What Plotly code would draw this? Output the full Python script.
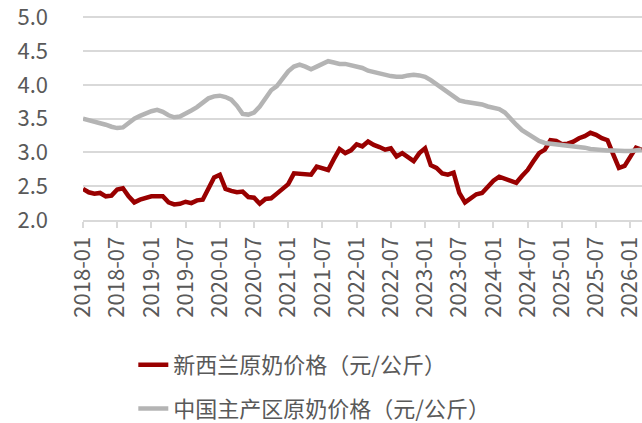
import pandas as pd
import plotly.graph_objects as go

# Monthly categories 2018-01 .. 2026-03
months = pd.date_range("2018-01-01", periods=99, freq="MS").strftime("%Y-%m").tolist()

tick_labels = ["2018-01", "2018-07", "2019-01", "2019-07", "2020-01", "2020-07",
               "2021-01", "2021-07", "2022-01", "2022-07", "2023-01", "2023-07",
               "2024-01", "2024-07", "2025-01", "2025-07", "2026-01"]

y_ticks = [2.0, 2.5, 3.0, 3.5, 4.0, 4.5, 5.0]

series_nz_name = "新西兰原奶价格（元/公斤）"
series_cn_name = "中国主产区原奶价格（元/公斤）"

nz_price = [
    2.46, 2.41, 2.39, 2.40, 2.35, 2.36, 2.45, 2.47, 2.35, 2.26, 2.30, 2.33,
    2.35, 2.35, 2.35, 2.26, 2.23, 2.24, 2.27, 2.25, 2.29, 2.30, 2.45, 2.63,
    2.67, 2.46, 2.43, 2.41, 2.42, 2.34, 2.33, 2.24, 2.31, 2.32, 2.39, 2.46,
    2.53, 2.69, 2.68, 2.67, 2.67, 2.79, 2.77, 2.74, 2.90, 3.05, 2.99, 3.03,
    3.12, 3.09, 3.16, 3.11, 3.08, 3.04, 3.06, 2.94, 2.99, 2.92, 2.87, 2.99,
    3.06, 2.81, 2.77, 2.69, 2.67, 2.70, 2.40, 2.26, 2.33, 2.38, 2.40, 2.50,
    2.58, 2.64, 2.61, 2.58, 2.55, 2.65, 2.74, 2.87, 2.99, 3.04, 3.18, 3.17,
    3.12, 3.13, 3.16, 3.21, 3.24, 3.29, 3.26, 3.21, 3.18, 2.97, 2.77, 2.80,
    2.95, 3.07, 3.04,
]

cn_price = [
    3.50, 3.48, 3.46, 3.44, 3.41, 3.38, 3.36, 3.37, 3.44, 3.50, 3.54, 3.58,
    3.61, 3.63, 3.60, 3.55, 3.52, 3.53, 3.57, 3.62, 3.67, 3.74, 3.80, 3.83,
    3.84, 3.82, 3.78, 3.69, 3.57, 3.56, 3.59, 3.68, 3.81, 3.92, 3.98, 4.08,
    4.20, 4.27, 4.30, 4.27, 4.23, 4.27, 4.31, 4.35, 4.33, 4.31, 4.31, 4.29,
    4.26, 4.25, 4.21, 4.19, 4.16, 4.14, 4.13, 4.12, 4.12, 4.14, 4.15, 4.14,
    4.12, 4.07, 4.01, 3.95, 3.90, 3.84, 3.77, 3.75, 3.74, 3.73, 3.71, 3.68,
    3.66, 3.64, 3.59, 3.49, 3.41, 3.33, 3.27, 3.22, 3.17, 3.14, 3.13, 3.12,
    3.12, 3.11, 3.10, 3.08, 3.07, 3.05, 3.04, 3.04, 3.03, 3.03, 3.02, 3.02,
    3.02, 3.03, 3.04,
]

RED = "#990000"
GRAY = "#b4b4b4"
GRID = "#d9d9d9"
TXT = "#595959"
CJK = "Noto Sans CJK SC"

fig = go.Figure()
fig.add_trace(go.Scatter(x=months, y=nz_price, mode="lines", name=series_nz_name,
                         legendgroup="a",
                         line=dict(color=RED, width=4.5)))
fig.add_trace(go.Scatter(x=months, y=cn_price, mode="lines", name=series_cn_name,
                         legendgroup="b",
                         line=dict(color=GRAY, width=4.5)))

fig.update_layout(
    width=642, height=423,
    margin=dict(l=83, r=0, t=15, b=203, autoexpand=False),
    paper_bgcolor="white", plot_bgcolor="white",
    showlegend=True,
    legend=dict(x=0.09, y=-0.605, xanchor="left", yanchor="top",
                font=dict(family=CJK, size=22, color=TXT),
                tracegroupgap=12, bgcolor="rgba(0,0,0,0)"),
)

fig.update_xaxes(
    type="category", categoryorder="array", categoryarray=months,
    range=[0, 98.05],
    tickmode="array", tickvals=tick_labels, ticktext=tick_labels,
    tickangle=-90, tickfont=dict(family=CJK, size=22, color=TXT),
    showgrid=False, showline=True, linecolor=GRID, linewidth=2,
    ticks="outside", ticklen=6, tickcolor=GRID, tickwidth=1.5,
    automargin=False, zeroline=False, ticklabeloverflow="allow",
)
fig.update_yaxes(
    range=[1.9995, 5.034], tickmode="array", tickvals=y_ticks,
    tickformat=".1f",
    tickfont=dict(family=CJK, size=22, color=TXT),
    showgrid=True, gridcolor=GRID, gridwidth=2,
    showline=False, zeroline=False, ticks="",
    ticklabelstandoff=34, automargin=False, ticklabeloverflow="allow",
)

fig.write_html("out.html", config={"displayModeBar": False},
               post_script="document.body.style.margin='0';")
